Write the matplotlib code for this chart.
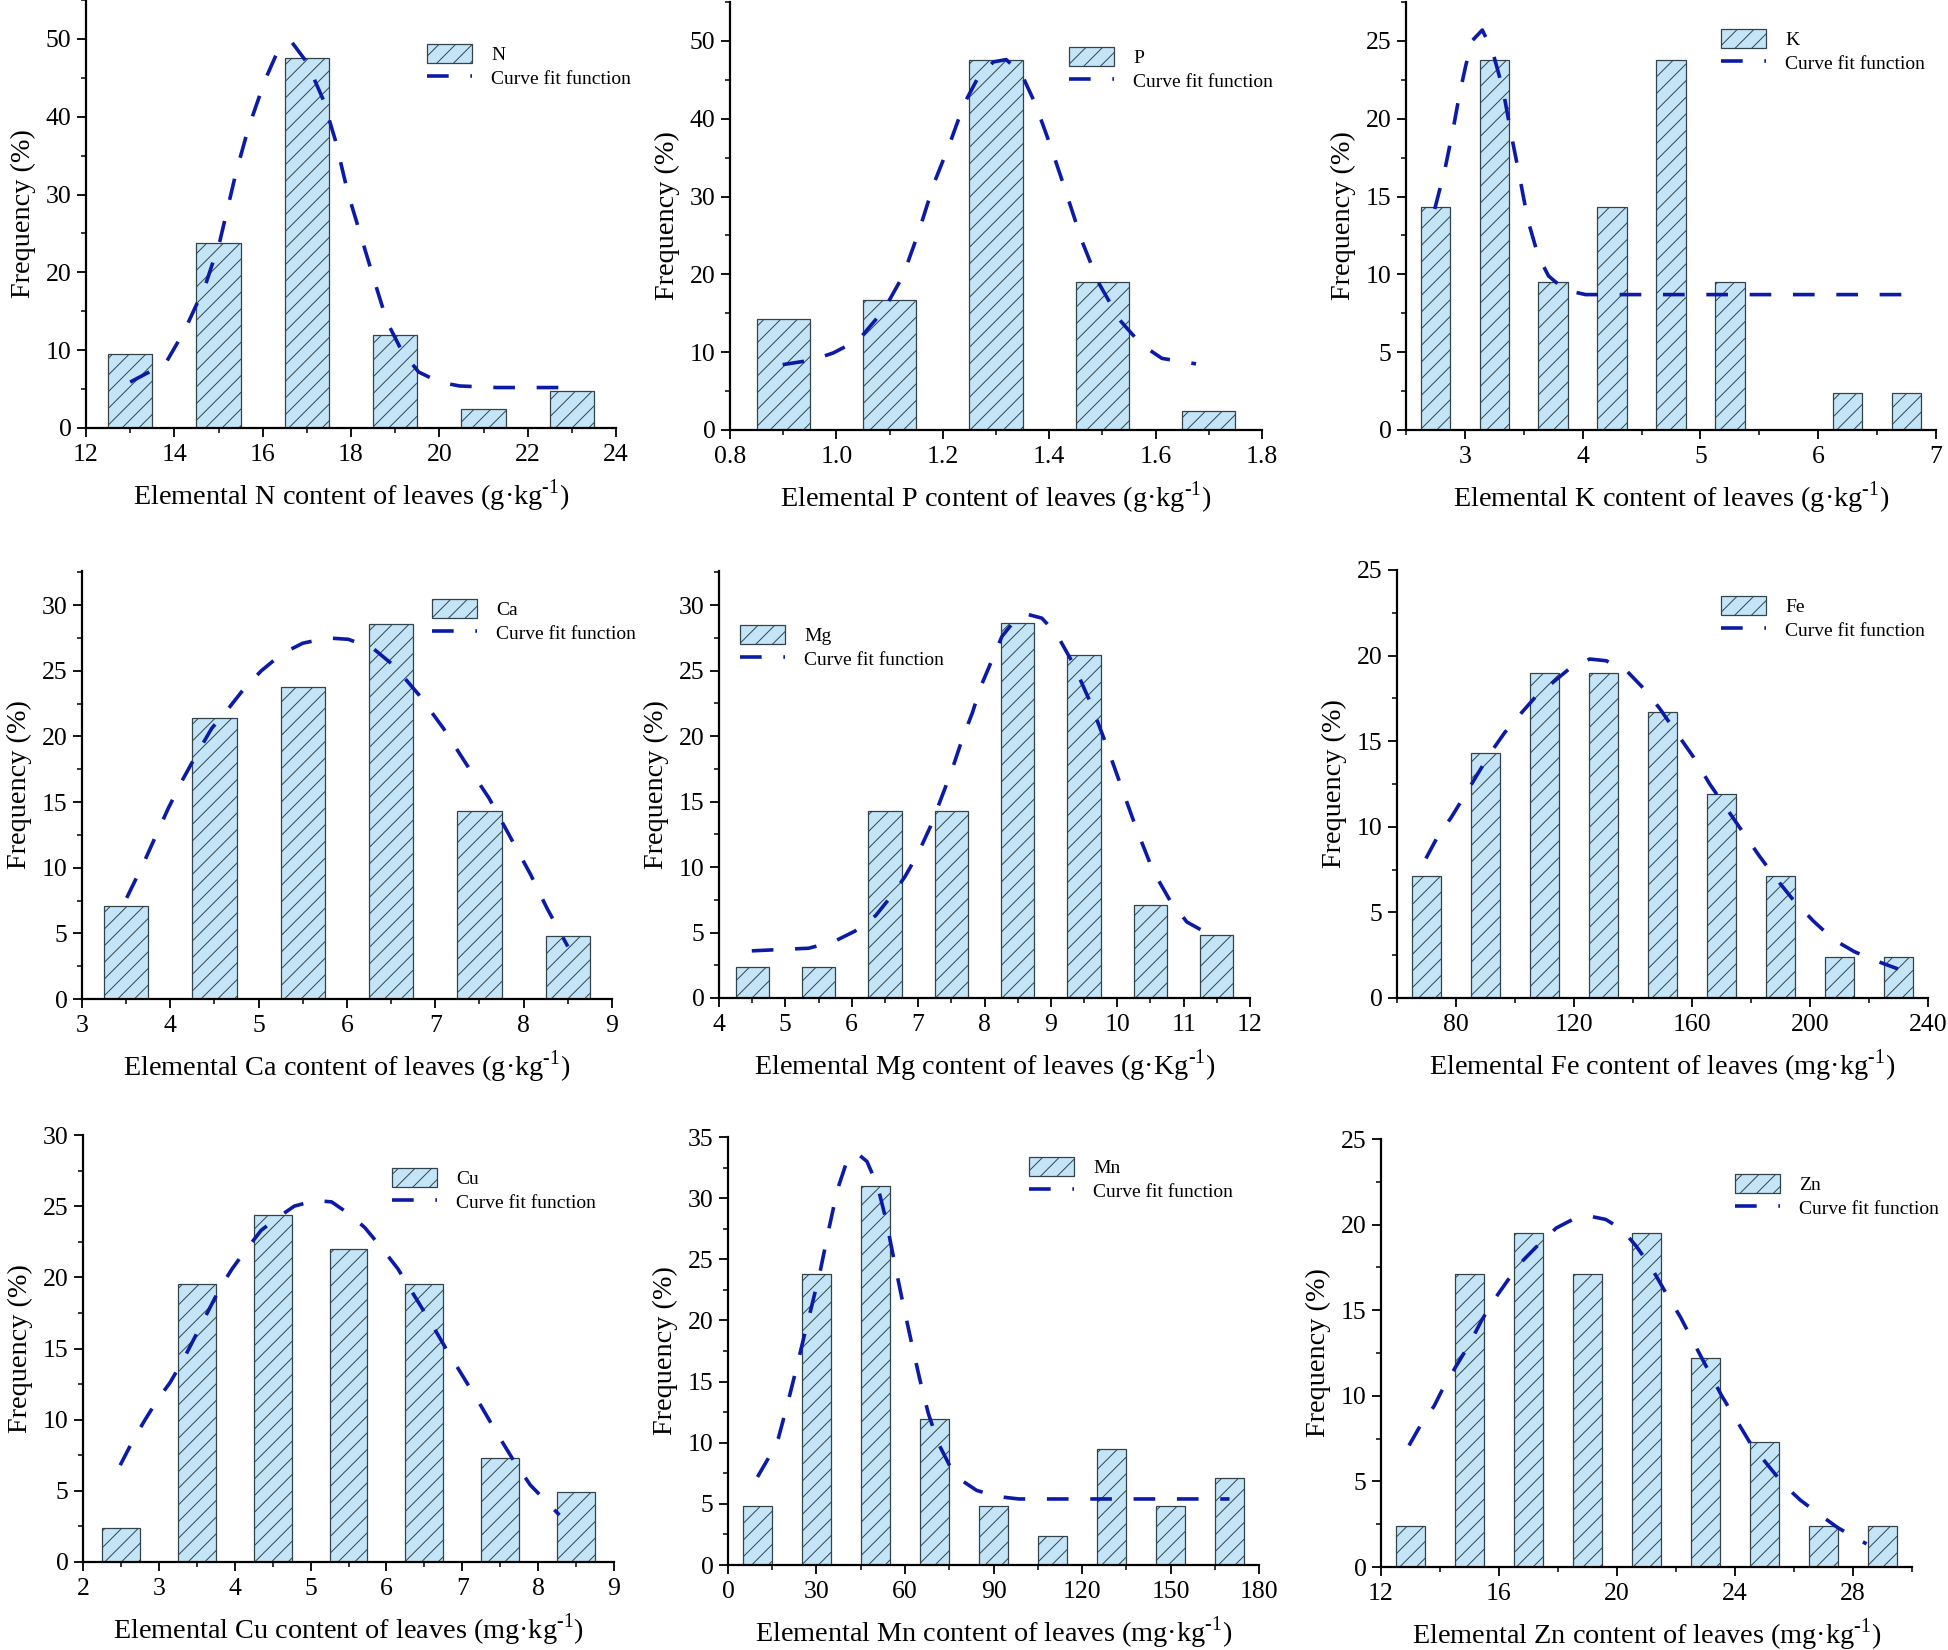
import matplotlib
matplotlib.use("Agg")
import matplotlib.pyplot as plt
from matplotlib.ticker import MultipleLocator, FormatStrFormatter


# ---- data (frequency in %) ----
n_centers = [13, 15, 17, 19, 21, 23]
n_freq = [9.5, 23.8, 47.6, 11.9, 2.4, 4.8]
n_fit_x = [13.0, 13.8, 14.23, 14.7, 15.03, 15.4, 15.68, 16.06, 16.34, 16.67, 17.0, 17.37,
           17.65, 17.93, 18.26, 18.54, 18.82, 19.15, 19.53, 20.0, 20.46, 21.3, 23.0]
n_fit_y = [5.9, 8.3, 12.5, 18.3, 24.0, 32.9, 38.6, 44.8, 48.4, 49.5, 47.0, 42.2,
           36.9, 30.2, 24.0, 18.7, 13.6, 9.9, 7.2, 5.9, 5.4, 5.2, 5.2]

p_centers = [0.9, 1.1, 1.3, 1.5, 1.7]
p_freq = [14.3, 16.7, 47.6, 19.0, 2.4]
p_fit_x = [0.899, 0.955, 0.994, 1.042, 1.089, 1.125, 1.153, 1.184, 1.212, 1.240, 1.264, 1.295,
           1.319, 1.347, 1.374, 1.402, 1.430, 1.462, 1.493, 1.533, 1.573, 1.612, 1.676]
p_fit_y = [8.4, 9.0, 9.9, 11.6, 15.4, 19.8, 25.1, 31.8, 36.6, 41.9, 45.0, 47.3,
           47.6, 45.9, 41.9, 36.6, 30.9, 24.2, 18.9, 14.1, 11.0, 9.2, 8.5]

k_centers = [2.75, 3.25, 3.75, 4.25, 4.75, 5.25, 5.75, 6.25, 6.75]
k_freq = [14.3, 23.8, 9.5, 14.3, 23.8, 9.5, 0.0, 2.4, 2.4]
k_fit_x = [2.744, 2.832, 2.902, 2.955, 3.007, 3.06, 3.148, 3.236, 3.323, 3.393, 3.464,
           3.534, 3.622, 3.71, 3.85, 4.025, 6.765]
k_fit_y = [14.2, 16.8, 19.4, 21.6, 23.4, 25.0, 25.7, 24.3, 21.9, 19.0, 16.3,
           13.5, 11.2, 9.9, 9.0, 8.7, 8.7]

ca_centers = [3.5, 4.5, 5.5, 6.5, 7.5, 8.5]
ca_freq = [7.1, 21.4, 23.8, 28.6, 14.3, 4.8]
ca_fit_x = [3.506, 3.694, 3.834, 3.975, 4.139, 4.303, 4.467, 4.655, 4.842, 5.03, 5.264, 5.499,
            5.78, 6.014, 6.296, 6.53, 6.81, 7.093, 7.35, 7.608, 7.843, 8.077, 8.265, 8.5]
ca_fit_y = [7.7, 10.3, 12.4, 14.5, 16.7, 18.7, 20.6, 22.1, 23.7, 25.0, 26.3, 27.1,
            27.5, 27.4, 26.7, 25.4, 23.2, 20.6, 17.9, 15.3, 12.4, 9.5, 6.9, 4.0]

mg_centers = [4.5, 5.5, 6.5, 7.5, 8.5, 9.5, 10.5, 11.5]
mg_freq = [2.4, 2.4, 14.3, 14.3, 28.6, 26.2, 7.1, 4.8]
mg_fit_x = [4.494, 5.349, 5.729, 6.046, 6.362, 6.615, 6.806, 6.996, 7.186, 7.344, 7.502, 7.661,
            7.819, 7.946, 8.104, 8.262, 8.452, 8.642, 8.864, 9.085, 9.339, 9.592, 9.845,
            10.07, 10.29, 10.54, 10.80, 11.05, 11.37, 11.49]
mg_fit_y = [3.6, 3.8, 4.3, 5.1, 6.3, 7.9, 9.3, 11.0, 13.1, 15.2, 17.3, 19.7,
            21.8, 23.8, 25.7, 27.6, 28.8, 29.3, 29.0, 27.8, 25.5, 22.6, 19.2,
            16.0, 12.9, 9.7, 7.4, 5.8, 4.9, 4.7]

fe_centers = [70, 90, 110, 130, 150, 170, 190, 210, 230]
fe_freq = [7.1, 14.3, 19.0, 19.0, 16.7, 11.9, 7.1, 2.4, 2.4]
fe_fit_x = [69.8, 74.0, 78.2, 82.5, 86.7, 91.6, 96.5, 101.4, 107.0, 112.6, 118.2, 125.3,
            130.9, 137.9, 143.5, 149.1, 154.7, 160.4, 166.0, 171.6, 177.2, 182.8, 188.4,
            194.0, 201.1, 208.1, 215.1, 223.5, 229.8]
fe_fit_y = [8.15, 9.5, 10.5, 11.7, 12.9, 14.3, 15.5, 16.5, 17.6, 18.4, 19.2, 19.8,
            19.7, 19.1, 18.1, 16.9, 15.5, 14.1, 12.5, 11.1, 9.7, 8.3, 7.0,
            5.8, 4.5, 3.4, 2.7, 2.1, 1.7]

cu_centers = [2.5, 3.5, 4.5, 5.5, 6.5, 7.5, 8.5]
cu_freq = [2.4, 19.5, 24.4, 22.0, 19.5, 7.3, 4.9]
cu_fit_x = [2.49, 2.655, 2.819, 2.983, 3.147, 3.311, 3.475, 3.638, 3.802, 3.966, 4.13, 4.348,
            4.567, 4.785, 5.058, 5.277, 5.495, 5.714, 5.932, 6.151, 6.369, 6.588, 6.806,
            7.025, 7.243, 7.462, 7.68, 7.898, 8.117, 8.28]
cu_fit_y = [6.8, 8.5, 10.0, 11.4, 12.6, 14.1, 15.8, 17.5, 19.2, 20.6, 21.8, 23.3,
            24.2, 25.0, 25.4, 25.3, 24.5, 23.5, 22.1, 20.6, 18.7, 16.8, 14.8,
            12.9, 11.0, 9.0, 7.1, 5.4, 4.2, 3.3]

mn_centers = [10, 30, 50, 70, 90, 110, 130, 150, 170]
mn_freq = [4.8, 23.8, 31.0, 11.9, 4.8, 2.4, 9.5, 4.8, 7.1]
mn_fit_x = [10.0, 13.6, 17.1, 20.0, 22.9, 25.7, 28.6, 31.4, 34.3, 37.1, 40.0, 43.6,
            47.1, 50.7, 53.6, 56.4, 59.3, 62.1, 65.0, 67.9, 71.4, 75.0, 79.3,
            84.3, 91.4, 98.6, 170.0]
mn_fit_y = [7.2, 8.7, 10.4, 13.0, 15.8, 18.6, 21.4, 24.2, 27.6, 30.7, 32.8, 33.7,
            33.0, 31.0, 28.2, 24.8, 21.4, 18.3, 15.2, 12.4, 9.9, 8.2, 6.9,
            6.1, 5.6, 5.4, 5.4]

zn_centers = [13, 15, 17, 19, 21, 23, 25, 27, 29]
zn_freq = [2.4, 17.1, 19.5, 17.1, 19.5, 12.2, 7.3, 2.4, 2.4]
zn_fit_x = [12.95, 13.38, 13.80, 14.15, 14.57, 14.99, 15.41, 15.83, 16.32, 16.81, 17.38,
            17.94, 18.50, 19.06, 19.62, 20.18, 20.67, 21.16, 21.66, 22.15, 22.57, 23.06,
            23.55, 24.04, 24.53, 25.09, 25.66, 26.22, 26.92, 27.48, 28.04, 28.46]
zn_fit_y = [7.1, 8.4, 9.4, 10.6, 11.8, 13.0, 14.4, 15.6, 16.8, 17.9, 18.9,
            19.8, 20.3, 20.5, 20.3, 19.7, 18.7, 17.5, 16.0, 14.6, 13.2, 11.6,
            10.0, 8.6, 7.2, 6.0, 4.8, 3.9, 3.0, 2.3, 1.75, 1.35]

elements = ["N", "P", "K", "Ca", "Mg", "Fe", "Cu", "Mn", "Zn"]
x_labels = [
    r"Elemental N content of leaves (g·kg$^{\text{-1}}$)",
    r"Elemental P content of leaves (g·kg$^{\text{-1}}$)",
    r"Elemental K content of leaves (g·kg$^{\text{-1}}$)",
    r"Elemental Ca content of leaves (g·kg$^{\text{-1}}$)",
    r"Elemental Mg content of leaves (g·Kg$^{\text{-1}}$)",
    r"Elemental Fe content of leaves (mg·kg$^{\text{-1}}$)",
    r"Elemental Cu content of leaves (mg·kg$^{\text{-1}}$)",
    r"Elemental Mn content of leaves (mg·kg$^{\text{-1}}$)",
    r"Elemental Zn content of leaves (mg·kg$^{\text{-1}}$)",
]
series = [
    (n_centers, n_freq, n_fit_x, n_fit_y),
    (p_centers, p_freq, p_fit_x, p_fit_y),
    (k_centers, k_freq, k_fit_x, k_fit_y),
    (ca_centers, ca_freq, ca_fit_x, ca_fit_y),
    (mg_centers, mg_freq, mg_fit_x, mg_fit_y),
    (fe_centers, fe_freq, fe_fit_x, fe_fit_y),
    (cu_centers, cu_freq, cu_fit_x, cu_fit_y),
    (mn_centers, mn_freq, mn_fit_x, mn_fit_y),
    (zn_centers, zn_freq, zn_fit_x, zn_fit_y),
]

# ---- layout (pixels of the 1949x1650 canvas) ----
W, H = 1949, 1650
# left, right, bottom, top of each plotting area
boxes = [
    (86, 616, 428, 0), (730, 1262, 430, 2), (1406, 1936, 430, 2),
    (82, 612, 999, 571), (719, 1250, 998, 571), (1397, 1928, 998, 570),
    (83, 614, 1562, 1135), (728, 1259, 1565, 1137), (1381, 1912, 1567, 1139),
]
# x limits, y top, x major, x minor, y major, y minor
axis_setup = [
    ((12, 24), 55, 2, 1, 10, 5),
    ((0.8, 1.8), 55, 0.2, 0.1, 10, 5),
    ((2.5, 7), 27.5, 1, 0.5, 5, 2.5),
    ((3, 9), 32.6, 1, 0.5, 5, 2.5),
    ((4, 12), 32.6, 1, 0.5, 5, 2.5),
    ((60, 240), 25, 40, 20, 5, 2.5),
    ((2, 9), 30, 1, 0.5, 5, 2.5),
    ((0, 180), 35, 30, 15, 5, 2.5),
    ((12, 30), 25, 4, 2, 5, 2.5),
]
# upper-left corner of each legend, pixels
legend_pos = [(427, 44), (1069, 47), (1721, 29), (432, 599), (740, 625),
              (1721, 596), (392, 1168), (1029, 1157), (1735, 1174)]

BAR_FILL = "#C3E5F7"
BAR_EDGE = "#33434A"
CURVE_COLOR = "#0B1BA8"

plt.rcParams["font.family"] = ["Liberation Serif", "DejaVu Serif"]
plt.rcParams["mathtext.fontset"] = "custom"
plt.rcParams["mathtext.rm"] = "Liberation Serif"
plt.rcParams["hatch.linewidth"] = 0.7

fig = plt.figure(figsize=(W / 100, H / 100), dpi=100)

for i, (centers, freq, fit_x, fit_y) in enumerate(series):
    left, right, bottom, top = boxes[i]
    ax = fig.add_axes([left / W, 1 - bottom / H, (right - left) / W, (bottom - top) / H])
    xlim, ytop, xmaj, xmin, ymaj, ymin = axis_setup[i]

    width = 0.5 * (centers[1] - centers[0])
    bars = ax.bar(centers, freq, width=width, color=BAR_FILL, edgecolor=BAR_EDGE,
                  linewidth=0.9, hatch="//", label=elements[i], zorder=2)
    fit_line, = ax.plot(fit_x, fit_y, color=CURVE_COLOR, linewidth=2.6, dashes=(6, 6),
                        label="Curve fit function", zorder=3)

    ax.set_xlim(*xlim)
    ax.set_ylim(0, ytop)
    ax.xaxis.set_major_locator(MultipleLocator(xmaj))
    ax.xaxis.set_minor_locator(MultipleLocator(xmin))
    ax.yaxis.set_major_locator(MultipleLocator(ymaj))
    ax.yaxis.set_minor_locator(MultipleLocator(ymin))
    if i == 1:
        ax.xaxis.set_major_formatter(FormatStrFormatter("%.1f"))

    for side in ["top", "right"]:
        ax.spines[side].set_visible(False)
    for side in ["left", "bottom"]:
        ax.spines[side].set_linewidth(1.6)
    ax.tick_params(which="major", direction="out", length=6.5, width=1.3, labelsize=18.5)
    ax.tick_params(which="minor", direction="out", length=3.5, width=1.1)
    ax.tick_params(axis="x", which="major", pad=5)
    ax.tick_params(axis="y", which="major", pad=4)

    ax.set_xlabel(x_labels[i], fontsize=20.3, labelpad=8)
    ax.set_ylabel("Frequency (%)", fontsize=20.3, labelpad=7)

    lx, ly = legend_pos[i]
    ax.legend(handles=[bars, fit_line], loc="upper left",
              bbox_to_anchor=(lx / W, 1 - ly / H),
              bbox_transform=fig.transFigure, frameon=False, fontsize=14,
              borderpad=0, borderaxespad=0, handlelength=2.3, handleheight=1.1,
              handletextpad=1.0, labelspacing=0.2)

fig.savefig("out.png", dpi=100)
